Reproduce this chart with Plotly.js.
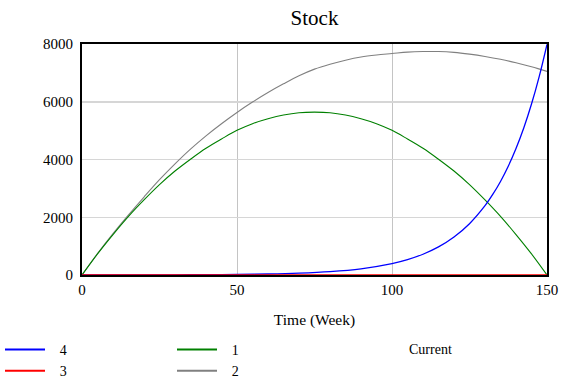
<!DOCTYPE html>
<html>
<head>
<meta charset="utf-8">
<script src="https://cdn.plot.ly/plotly-3.0.1.min.js"></script>
<style>html,body{margin:0;padding:0;background:#fff;}#chart{width:576px;height:384px;}</style>
</head>
<body>
<div id="chart"></div>
<script>
// Time axis (weeks)
var weeks = [0,5,10,15,20,25,30,35,40,45,50,55,60,65,70,75,80,85,90,95,100,105,110,115,120,125,130,135,140,145,150];
// Series "1" (green)
var series1 = [0,730,1400,2030,2600,3130,3600,4010,4390,4710,5010,5240,5410,5540,5620,5640,5620,5540,5410,5240,5010,4710,4390,4010,3600,3130,2600,2030,1400,730,0];
// Series "2" (grey)
var series2 = [0,740,1430,2080,2700,3300,3850,4360,4820,5240,5630,5990,6320,6620,6900,7130,7300,7440,7550,7620,7670,7720,7740,7740,7710,7650,7570,7470,7350,7210,7050];
// Series "3" (red)
var series3 = [0,0,0,0,0,0,0,0,0,0,0,0,0,0,0,0,0,0,0,0,0,0,0,0,0,0,0,0,0,0,0];
// Series "4" (blue)
var weeks4 = [0,10,20,30,40,50,60,70,80,90,100,105,110,115,120,125,130,132.5,135,137.5,140,142.5,145,147.5,150];
var series4 = [1,2,3,6,11,19,35,65,118,215,394,532,719,972,1315,1777,2400,2790,3240,3766,4380,5090,5920,6880,7990];
// Legend labels
var names = ['4','3','1','2'];
var runLabel = 'Current';
var title = 'Stock';
var xTitle = 'Time (Week)';

var FONT = '"Liberation Serif", "Times New Roman", Times, serif';
var cBlue = '#0000ff', cRed = '#ff0000', cGreen = '#008000', cGrey = '#808080';
var pad = '\u2002\u2009';

var traces = [
  {x: weeks, y: series2, type: 'scatter', mode: 'lines', line: {color: cGrey, width: 1.1, shape: 'spline'}, showlegend: false, hoverinfo: 'skip'},
  {x: weeks, y: series1, type: 'scatter', mode: 'lines', line: {color: cGreen, width: 1.1, shape: 'spline'}, showlegend: false, hoverinfo: 'skip'},
  {x: weeks4, y: series4, type: 'scatter', mode: 'lines', line: {color: cBlue, width: 1.3, shape: 'spline'}, showlegend: false, hoverinfo: 'skip'},
  {x: weeks, y: series3, type: 'scatter', mode: 'lines', line: {color: cRed, width: 1.5}, showlegend: false, hoverinfo: 'skip'},
  // legend entries
  {x: [null], y: [null], type: 'scatter', mode: 'lines', name: pad + names[0], line: {color: cBlue, width: 2}, legend: 'legend'},
  {x: [null], y: [null], type: 'scatter', mode: 'lines', name: pad + names[1], line: {color: cRed, width: 2}, legend: 'legend'},
  {x: [null], y: [null], type: 'scatter', mode: 'lines', name: pad + names[2], line: {color: cGreen, width: 2}, legend: 'legend2'},
  {x: [null], y: [null], type: 'scatter', mode: 'lines', name: pad + names[3], line: {color: cGrey, width: 2}, legend: 'legend2'}
];

var legendCommon = {
  xref: 'container', yref: 'container', yanchor: 'top', xanchor: 'left',
  orientation: 'v', bgcolor: 'rgba(0,0,0,0)', borderwidth: 0,
  font: {family: FONT, size: 14, color: '#000'}, itemwidth: 40, tracegroupgap: 0
};

var layout = {
  width: 576, height: 384,
  paper_bgcolor: '#fff', plot_bgcolor: '#fff',
  margin: {l: 82, r: 29, t: 44, b: 109, autoexpand: false},
  font: {family: FONT, color: '#000'},
  title: {text: title, font: {family: FONT, size: 21, color: '#000'}, x: 0.5, xref: 'paper', xanchor: 'center', y: 1 - 18/384, yanchor: 'middle'},
  xaxis: {
    range: [0, 150], tickvals: [0, 50, 100, 150], ticks: '', showgrid: true, gridcolor: '#c4c4c4', gridwidth: 1,
    showline: true, linecolor: '#000', linewidth: 2, mirror: true, zeroline: false,
    tickfont: {family: FONT, size: 15, color: '#000'},
    title: {text: xTitle, font: {family: FONT, size: 15.5, color: '#000'}, standoff: 17}
  },
  yaxis: {
    range: [0, 8000], tickvals: [0, 2000, 4000, 6000, 8000], ticks: '', showgrid: true, gridcolor: '#d6d6d6', gridwidth: 1.5,
    showline: true, linecolor: '#000', linewidth: 2, mirror: true, zeroline: false,
    tickfont: {family: FONT, size: 15, color: '#000'}, ticklabelstandoff: 4
  },
  legend: Object.assign({x: 0, y: 1 - 334/384}, legendCommon),
  legend2: Object.assign({x: 172/576, y: 1 - 334/384}, legendCommon),
  annotations: [
    {text: runLabel, xref: 'paper', yref: 'paper', x: (407 - 82) / 465, y: -(349 - 275) / 231, xanchor: 'left', yanchor: 'middle', showarrow: false, font: {family: FONT, size: 14, color: '#000'}}
  ],
  showlegend: true
};

Plotly.newPlot('chart', traces, layout, {staticPlot: true, displayModeBar: false});
</script>
</body>
</html>
